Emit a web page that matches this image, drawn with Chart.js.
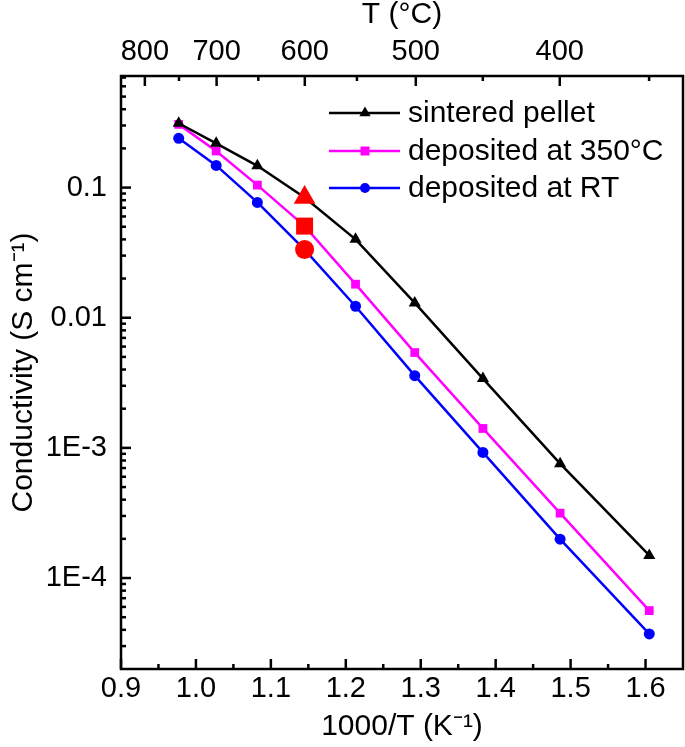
<!DOCTYPE html>
<html><head><meta charset="utf-8">
<script src="https://cdn.jsdelivr.net/npm/chart.js@4.4.1/dist/chart.umd.min.js"></script>
<style>html,body{margin:0;padding:0;background:#fff;} canvas{display:block;}</style>
</head><body>
<canvas id="c" width="685" height="747"></canvas>
<script>
// ---- data ----
const invT   = [0.977, 1.027, 1.082, 1.145, 1.213, 1.292, 1.383, 1.486, 1.605];
const pellet = [0.312, 0.219, 0.147, 0.084, 0.0400, 0.0130, 0.00341, 0.000756, 0.000149];
const dep350 = [0.306, 0.191, 0.1045, 0.0506, 0.0181, 0.0054, 0.00141, 0.000315, 0.0000562];
const depRT  = [0.239, 0.148, 0.0769, 0.0334, 0.01225, 0.00359, 0.000923, 0.000199, 0.0000372];
const redX   = [1.145, 1.145, 1.145];
const redY   = [0.084, 0.0506, 0.0334];
const seriesNames = ['sintered pellet', 'deposited at 350°C', 'deposited at RT'];

const bottomTicks  = [0.9, 1.0, 1.1, 1.2, 1.3, 1.4, 1.5, 1.6];
const bottomLabels = ['0.9', '1.0', '1.1', '1.2', '1.3', '1.4', '1.5', '1.6'];
const bottomMinor  = [0.95, 1.05, 1.15, 1.25, 1.35, 1.45, 1.55];
const yTickValues  = [1e-4, 1e-3, 1e-2, 1e-1];
const yTickLabels  = ['1E-4', '1E-3', '0.01', '0.1'];
const topTickC     = [800, 700, 600, 500, 400];
const topMinorC    = [750, 650, 550, 450, 350];

const FONT = "'Liberation Sans', Arial, Helvetica, sans-serif";
const toInv = c => 1000 / (c + 273.15);

const frameTicks = {
  id: 'frameTicks',
  afterDatasetsDraw(chart) {
    const {ctx, chartArea: a, scales: {x, x2, y}} = chart;
    ctx.save();
    ctx.strokeStyle = '#000';
    ctx.lineWidth = 2.5;
    const seg = (x1, y1, x2_, y2_) => { ctx.beginPath(); ctx.moveTo(x1, y1); ctx.lineTo(x2_, y2_); ctx.stroke(); };
    const MAJ = 10, MIN = 5;
    bottomTicks.forEach(v => { const p = x.getPixelForValue(v); seg(p, a.bottom, p, a.bottom - MAJ); });
    bottomMinor.forEach(v => { const p = x.getPixelForValue(v); seg(p, a.bottom, p, a.bottom - MIN); });
    topTickC.forEach(c => { const p = x2.getPixelForValue(toInv(c)); seg(p, a.top, p, a.top + MAJ); });
    topMinorC.forEach(c => { const p = x2.getPixelForValue(toInv(c)); seg(p, a.top, p, a.top + MIN); });
    yTickValues.forEach(v => { const p = y.getPixelForValue(v); seg(a.left, p, a.left + MAJ, p); });
    [1e-5, 1e-4, 1e-3, 1e-2, 1e-1].forEach(d => {
      for (let m = 2; m <= 9; m++) {
        const v = m * d;
        if (v > y.min && v < y.max) { const p = y.getPixelForValue(v); seg(a.left, p, a.left + MIN, p); }
      }
    });
    ctx.strokeRect(a.left, a.top, a.right - a.left, a.bottom - a.top);
    ctx.restore();
  },
  afterDraw(chart) {
    const ctx = chart.ctx;
    const ds = chart.data.datasets;
    const rows = [113, 151, 188];
    ctx.save();
    for (let i = 0; i < 3; i++) {
      const d = ds[i + 1];
      const yy = rows[i];
      ctx.strokeStyle = d.borderColor;
      ctx.lineWidth = 2.5;
      ctx.beginPath(); ctx.moveTo(329, yy); ctx.lineTo(400, yy); ctx.stroke();
      ctx.fillStyle = d.borderColor;
      ctx.beginPath();
      if (d.pointStyle === 'triangle') {
        const r = 6.5;
        ctx.moveTo(365, yy - r); ctx.lineTo(365 + r * 0.866, yy + r / 2); ctx.lineTo(365 - r * 0.866, yy + r / 2);
      } else if (d.pointStyle === 'rect') {
        ctx.rect(365 - 4.5, yy - 4.5, 9, 9);
      } else {
        ctx.arc(365, yy, 5, 0, Math.PI * 2);
      }
      ctx.closePath(); ctx.fill();
      ctx.fillStyle = '#000';
      ctx.font = '30px ' + FONT;
      ctx.textBaseline = 'middle';
      ctx.textAlign = 'left';
      ctx.fillText(seriesNames[i], 408, yy + 1);
    }
    ctx.restore();
  }
};

const mk = (arr) => invT.map((v, i) => ({x: v, y: arr[i]}));
const noPad = s => { s.paddingLeft = 0; s.paddingRight = 0; };

new Chart(document.getElementById('c'), {
  type: 'line',
  data: {
    datasets: [
      {
        label: 'red', data: redX.map((v, i) => ({x: v, y: redY[i]})),
        showLine: false, order: -1,
        pointStyle: ['triangle', 'rect', 'circle'],
        pointRadius: [12.5, 12, 9.5], pointBackgroundColor: '#ff0000', pointBorderColor: '#ff0000', pointBorderWidth: 0,
        borderColor: '#ff0000', backgroundColor: '#ff0000'
      },
      {
        label: seriesNames[0], data: mk(pellet), borderColor: '#000000', backgroundColor: '#000000',
        borderWidth: 2.5, pointStyle: 'triangle', pointRadius: 7, pointBorderWidth: 0, tension: 0
      },
      {
        label: seriesNames[1], data: mk(dep350), borderColor: '#ff00ff', backgroundColor: '#ff00ff',
        borderWidth: 2.5, pointStyle: 'rect', pointRadius: 6.2, pointBorderWidth: 0, tension: 0
      },
      {
        label: seriesNames[2], data: mk(depRT), borderColor: '#0000ff', backgroundColor: '#0000ff',
        borderWidth: 2.5, pointStyle: 'circle', pointRadius: 5.5, pointBorderWidth: 0, tension: 0
      }
    ]
  },
  options: {
    responsive: false, animation: false, devicePixelRatio: 1,
    layout: {autoPadding: false, padding: {left: 0, right: 2, top: 0, bottom: 0}},
    plugins: {legend: {display: false}, tooltip: {enabled: false}},
    scales: {
      x: {
        type: 'linear', position: 'bottom', min: 0.9, max: 1.65,
        afterBuildTicks: s => { s.ticks = bottomTicks.map(v => ({value: v})); },
        afterFit: s => { s.height = 78; noPad(s); },
        grid: {display: false, drawTicks: false}, border: {display: false},
        ticks: {color: '#000', padding: 3, autoSkip: false, maxRotation: 0, font: {family: FONT, size: 29},
                callback: (v, i) => bottomLabels[i]},
        title: {display: true, text: '1000/T (K⁻¹)', color: '#000', font: {family: FONT, size: 30, lineHeight: 1},
                padding: {top: 0, bottom: 5}}
      },
      x2: {
        type: 'linear', position: 'top', min: 0.9, max: 1.65,
        afterBuildTicks: s => { s.ticks = topTickC.map(c => ({value: toInv(c)})); },
        afterFit: s => { s.height = 76; noPad(s); },
        grid: {display: false, drawTicks: false}, border: {display: false},
        ticks: {color: '#000', padding: 7, autoSkip: false, maxRotation: 0, font: {family: FONT, size: 29},
                callback: (v, i) => String(topTickC[i])},
        title: {display: true, text: 'T (°C)', color: '#000', font: {family: FONT, size: 30, lineHeight: 1},
                padding: {top: 0, bottom: 0}}
      },
      y: {
        type: 'logarithmic', position: 'left', min: 2e-5, max: 0.72,
        afterBuildTicks: s => { s.ticks = yTickValues.map(v => ({value: v})); },
        afterFit: s => { s.width = 121; s.paddingTop = 0; s.paddingBottom = 0; },
        grid: {display: false, drawTicks: false}, border: {display: false},
        ticks: {color: '#000', padding: 14, autoSkip: false, font: {family: FONT, size: 29},
                callback: (v, i) => yTickLabels[i]},
        title: {display: true, text: 'Conductivity (S cm⁻¹)', color: '#000', font: {family: FONT, size: 30, lineHeight: 1},
                padding: {top: 9, bottom: 0}}
      }
    }
  },
  plugins: [frameTicks]
});
</script>
</body></html>
